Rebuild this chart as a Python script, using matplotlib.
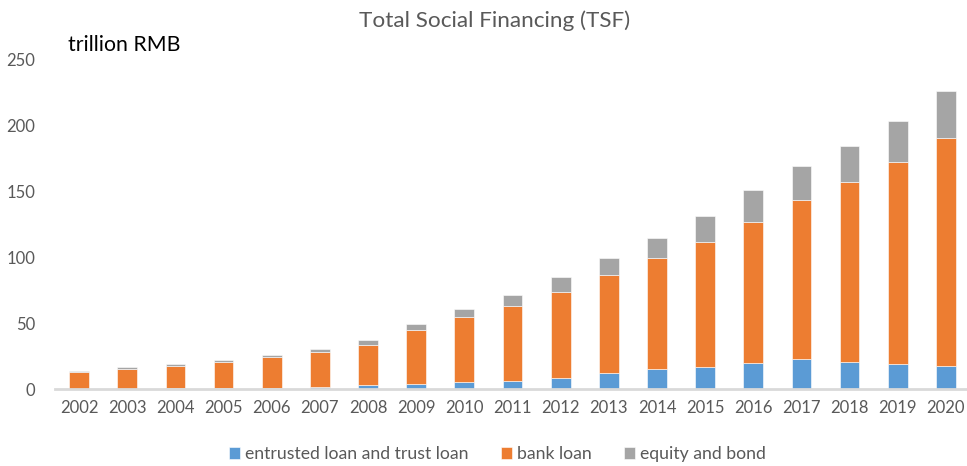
import matplotlib
matplotlib.use("Agg")
import matplotlib.pyplot as plt
import numpy as np

years = [str(y) for y in range(2002, 2021)]
entrusted = [0.2, 0.3, 0.5, 0.6, 0.8, 1.5, 2.8, 4.0, 5.5, 6.0, 8.6, 12.4, 15.0, 16.5, 19.5, 22.5, 20.3, 19.2, 17.7]
bank_top = [13.1, 15.4, 17.7, 20.3, 24.0, 28.3, 33.8, 45.0, 54.5, 63.3, 74.0, 86.9, 99.8, 112.0, 127.2, 143.9, 157.3, 172.7, 191.0]
total = [13.6, 16.7, 19.2, 22.0, 25.6, 30.4, 37.0, 49.6, 60.8, 71.4, 84.9, 99.8, 115.0, 131.2, 151.2, 169.5, 184.9, 203.4, 226.7]

bank = [b - e for b, e in zip(bank_top, entrusted)]
equity = [t - b for t, b in zip(total, bank_top)]

colors = ["#5B9BD5", "#ED7D31", "#A5A5A5"]
labels = ["entrusted loan and trust loan", "bank loan", "equity and bond"]

plt.rcParams['font.family'] = ['Lato', 'DejaVu Sans']
fig = plt.figure(figsize=(9.67, 4.66), dpi=100)
ax = fig.add_axes([55/967, 77/466, 915/967, 329/466])

x = np.arange(len(years))
w = 0.41
ax.bar(x, entrusted, w, color=colors[0], label=labels[0], edgecolor="white", linewidth=0.4)
ax.bar(x, bank, w, bottom=entrusted, color=colors[1], label=labels[1], edgecolor="white", linewidth=0.4)
ax.bar(x, equity, w, bottom=bank_top, color=colors[2], label=labels[2], edgecolor="white", linewidth=0.4)

ax.set_xlim(-0.5, len(years) - 0.5)
ax.set_ylim(0, 250)
ax.set_yticks([0, 50, 100, 150, 200, 250])
ax.set_xticks(x)
ax.set_xticklabels(years)
for s in ["top", "right", "left"]:
    ax.spines[s].set_visible(False)
ax.spines["bottom"].set_color("#D9D9D9")
ax.spines["bottom"].set_linewidth(2)
ax.tick_params(axis="both", length=0, labelsize=12, colors="#595959")
ax.tick_params(axis="y", pad=14)
ax.tick_params(axis="x", pad=8)

fig.text(494.5/967, 0.955, "Total Social Financing (TSF)", ha="center", va="center", fontsize=16.2, color="#595959")
fig.text(68/967, 0.903, "trillion RMB", ha="left", va="center", fontsize=15.3, color="black")

fig.legend(loc="center", bbox_to_anchor=(497.5/967, 0.025), ncol=3, frameon=False, fontsize=12.7,
           handlelength=0.63, handleheight=0.63, handletextpad=0.3, columnspacing=1.8,
           labelcolor="#595959")

fig.savefig("out.png", dpi=100)
